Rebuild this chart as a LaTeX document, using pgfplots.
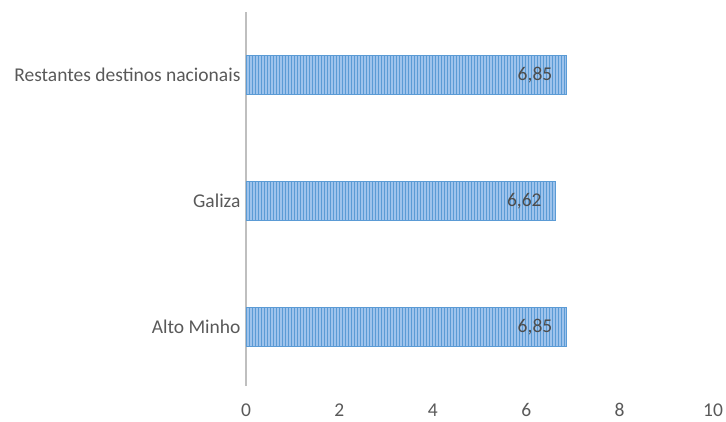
\documentclass[border=0pt]{standalone}
\usepackage{pgfplots}
\pgfplotsset{compat=1.18}
\usepackage{fontspec}
\setmainfont{Carlito}
\usetikzlibrary{patterns}
\definecolor{txt}{HTML}{595959}
\definecolor{barfill}{HTML}{9EC3EC}
\definecolor{barline}{HTML}{5B9BD5}
\begin{document}
\begin{tikzpicture}
\begin{axis}[
  name=ax,
  scale only axis,
  width=467pt, height=374pt,
  xbar,
  xmin=0, xmax=10,
  ymin=-0.47, ymax=2.5,
  xtick={0,2,4,6,8,10},
  ytick={0,1,2},
  yticklabels={Alto Minho, Galiza, Restantes destinos nacionais},
  axis lines*=left,
  x axis line style={draw=none},
  y axis line style={draw=black!25, line width=1.8pt},
  major tick length=0pt,
  tick style={draw=none},
  bar width=39pt,
  font=\fontsize{19.5}{22}\selectfont,
  tick label style={text=txt, font=\fontsize{19.5}{22}\selectfont},
  xticklabel style={anchor=base, yshift=-30pt},
  yticklabel style={xshift=-2pt},
  /pgf/number format/assume math mode=true,
  nodes near coords,
  every node near coord/.append style={anchor=east, xshift=-10pt, text=txt!85!black, font=\fontsize{19.5}{22}\selectfont,
    /pgf/number format/use comma, /pgf/number format/fixed, /pgf/number format/fixed zerofill, /pgf/number format/precision=2},
]
\addplot[fill=barfill, draw=barline, line width=0.6pt,
  postaction={pattern=vertical lines, pattern color=barline}]
  coordinates {(6.85,0) (6.62,1) (6.85,2)};
\end{axis}
\pgfresetboundingbox
\path ([shift={(-246pt,-35pt)}]ax.south west) rectangle ([shift={(480pt,386pt)}]ax.south west);
\end{tikzpicture}
\end{document}
